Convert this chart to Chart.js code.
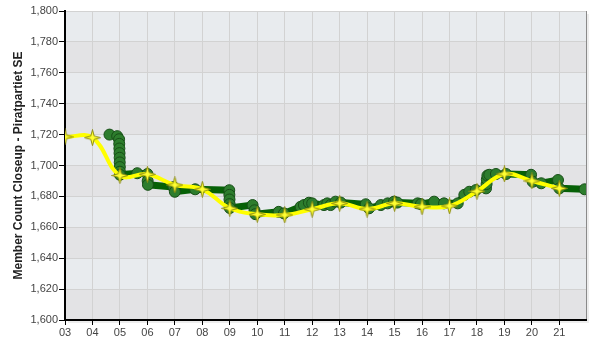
<!DOCTYPE html>
<html>
<head>
<meta charset="utf-8">
<script src="https://cdn.jsdelivr.net/npm/chart.js@4.4.0/dist/chart.umd.min.js"></script>
<style>
  body { margin: 0; background: #fff; }
  canvas { display: block; }
</style>
</head>
<body>
<canvas id="grafico" width="600" height="350"></canvas>
<script>
// hourly-ish member counts (x = day of month)
const greenDays = [4.62, 4.90, 4.97, 4.975, 4.98, 4.985, 4.99, 4.993, 4.996, 4.998, 5.00, 5.63, 6.00, 6.01, 6.02, 6.95, 7.00, 7.74, 8.98, 8.985, 8.99, 8.995, 9.00, 9.83, 9.90, 9.93, 10.78, 10.97, 11.58, 11.70, 11.88, 12.00, 12.43, 12.55, 12.67, 12.85, 13.04, 13.95, 14.07, 14.50, 14.75, 14.98, 15.10, 15.84, 15.96, 16.44, 16.80, 17.30, 17.54, 17.72, 17.96, 18.33, 18.35, 18.36, 18.38, 18.45, 18.69, 19.06, 19.97, 20.03, 20.34, 20.95, 21.00, 21.92];
const greenCounts = [1720, 1719, 1717, 1714, 1711, 1708, 1705, 1702, 1699, 1696, 1694, 1695, 1694.5, 1690, 1687.5, 1686, 1683, 1684.6, 1684, 1681, 1678, 1675, 1672.5, 1674.4, 1671, 1668.5, 1670, 1669, 1673.3, 1674.4, 1675.9, 1675.5, 1674.4, 1675.5, 1674.4, 1676.6, 1676, 1674.9, 1672.3, 1674.4, 1675.5, 1676.6, 1676, 1675.5, 1675, 1676.6, 1675.5, 1675.5, 1681, 1683, 1684.1, 1685.2, 1688, 1691, 1693.5, 1694, 1694.5, 1694.5, 1694, 1689.5, 1688.5, 1690.6, 1685.2, 1684.6];

// daily values (yellow)
const yellowDays = [3, 4, 5, 6, 7, 8, 9, 10, 11, 12, 13, 14, 15, 16, 17, 18, 19, 20, 21];
const yellowCounts = [1718.5, 1718, 1693.5, 1694.3, 1687.4, 1684.6, 1672.3, 1668.4, 1668, 1671.7, 1675.5, 1671.8, 1675.5, 1673.3, 1673.8, 1683.3, 1694.5, 1690, 1685.2];

const yMin = 1600, yMax = 1800, yStep = 20;
const xMin = 3, xMax = 21.97;
const tituloY = 'Member Count Closeup - Piratpartiet SE';

// 4-point star marker
function criarEstrela() {
    const c = document.createElement('canvas');
    c.width = 17; c.height = 17;
    const g = c.getContext('2d');
    const cx = 8.5, cy = 8.5, R = 8, r = 2.4;
    g.beginPath();
    for (let i = 0; i < 8; i++) {
        const a = -Math.PI / 2 + i * Math.PI / 4;
        const rad = i % 2 === 0 ? R : r;
        const px = cx + Math.cos(a) * rad, py = cy + Math.sin(a) * rad;
        if (i === 0) g.moveTo(px, py); else g.lineTo(px, py);
    }
    g.closePath();
    g.fillStyle = '#ffff30';
    g.fill();
    g.strokeStyle = '#8c8c10';
    g.lineWidth = 1;
    g.stroke();
    return c;
}

const fundo = {
    id: 'fundo',
    beforeDraw(chart) {
        const { ctx, chartArea: a, scales: { y } } = chart;
        ctx.save();
        ctx.fillStyle = 'rgba(0,0,0,0.07)';
        ctx.fillRect(a.left + 3, a.top + 3, a.right - a.left, a.bottom - a.top);
        for (let v = yMin, i = 0; v < yMax; v += yStep, i++) {
            const top = y.getPixelForValue(v + yStep), bot = y.getPixelForValue(v);
            ctx.fillStyle = i % 2 === 0 ? '#e3e3e5' : '#e8ebee';
            ctx.fillRect(a.left, top, a.right - a.left, bot - top);
        }
        ctx.strokeStyle = '#8a8a8a';
        ctx.lineWidth = 1;
        ctx.beginPath();
        ctx.moveTo(a.right + 0.5, a.top);
        ctx.lineTo(a.right + 0.5, a.bottom);
        ctx.moveTo(a.left, a.top + 0.5);
        ctx.lineTo(a.right, a.top + 0.5);
        ctx.stroke();
        ctx.restore();
    }
};

const ctx = document.getElementById('grafico').getContext('2d');
const grafico = new Chart(ctx, {
    type: 'line',
    data: {
        datasets: [{
            label: 'Daily',
            data: yellowDays.map((d, i) => ({ x: d, y: yellowCounts[i] })),
            borderColor: '#ffff00',
            backgroundColor: '#ffff00',
            borderWidth: 4,
            tension: 0.4,
            pointStyle: criarEstrela(),
            order: 0
        }, {
            label: 'Hourly',
            data: greenDays.map((d, i) => ({ x: d, y: greenCounts[i] })),
            borderColor: '#066106',
            backgroundColor: '#2b7a2b',
            borderWidth: 7,
            tension: 0,
            pointRadius: 5.5,
            pointBorderColor: '#174f17',
            pointBorderWidth: 1,
            pointBackgroundColor: '#2d7d2d',
            order: 1
        }]
    },
    options: {
        responsive: false,
        animation: false,
        devicePixelRatio: 1,
        layout: { padding: { top: 11, right: 14, left: 0, bottom: 0 } },
        plugins: {
            legend: { display: false },
            tooltip: { enabled: false }
        },
        scales: {
            x: {
                type: 'linear',
                min: xMin,
                max: xMax,
                afterFit: (s) => { s.height = 30; },
                border: { color: '#000', width: 2 },
                grid: { color: '#d2d2d2', tickColor: '#000', tickLength: 5 },
                ticks: {
                    stepSize: 1,
                    includeBounds: false,
                    padding: 1,
                    maxRotation: 0,
                    color: '#444',
                    font: { family: 'Liberation Sans, Arial', size: 11 },
                    callback: (v) => String(v).padStart(2, '0')
                }
            },
            y: {
                min: yMin,
                max: yMax,
                afterFit: (s) => { s.width = 65; },
                border: { color: '#000', width: 2 },
                grid: { color: '#d2d2d2', tickColor: '#000', tickLength: 6 },
                ticks: {
                    stepSize: yStep,
                    padding: 1,
                    color: '#444',
                    font: { family: 'Liberation Sans, Arial', size: 11 }
                },
                title: {
                    display: true,
                    text: tituloY,
                    color: '#222',
                    padding: { top: 11, bottom: 0 },
                    font: { family: 'Liberation Sans, Arial', size: 12, weight: 'bold' }
                }
            }
        }
    },
    plugins: [fundo]
});
</script>
</body>
</html>
